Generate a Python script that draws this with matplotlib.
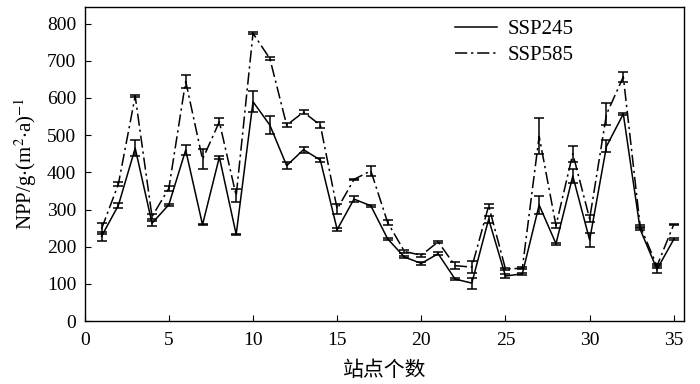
import numpy as np
import matplotlib.pyplot as plt

plt.rcParams['font.family'] = ['Liberation Serif', 'Noto Sans CJK SC']
plt.rcParams['mathtext.fontset'] = 'stix'

# station index
sites = np.arange(1, 36)

ssp245 = [228, 311, 465, 263, 313, 460, 259, 441, 233, 590,
          527, 418, 461, 433, 246, 328, 310, 221, 172, 155,
          181, 113, 102, 274, 121, 127, 312, 208, 390, 218,
          470, 557, 247, 139, 220]
err245 = [12, 6, 22, 7, 3, 14, 2, 4, 2, 29,
          24, 9, 8, 5, 5, 9, 2, 2, 3, 3,
          4, 2, 15, 9, 5, 3, 25, 3, 18, 18,
          16, 3, 3, 9, 3]

ssp585 = [248, 368, 605, 281, 357, 645, 435, 536, 337, 774,
          706, 527, 562, 527, 301, 381, 404, 265, 187, 177,
          213, 149, 145, 310, 140, 142, 497, 257, 450, 275,
          556, 657, 256, 148, 260]
err585 = [15, 5, 3, 7, 7, 18, 27, 10, 18, 3,
          5, 6, 6, 8, 13, 2, 13, 7, 5, 4,
          2, 9, 17, 5, 3, 3, 48, 6, 22, 9,
          30, 14, 2, 5, 2]

fig = plt.figure(figsize=(7, 3.84), dpi=100)
ax = fig.add_axes([0.121, 0.164, 0.856, 0.818])

ax.errorbar(sites, ssp245, yerr=err245, color='black', lw=1.1, ls='-',
            capsize=3.5, elinewidth=1.1, capthick=1.1, label='SSP245')
ax.errorbar(sites, ssp585, yerr=err585, color='black', lw=1.1,
            ls=(0, (8, 2.5, 1.5, 2.5)),
            capsize=3.5, elinewidth=1.1, capthick=1.1, label='SSP585')

ax.set_xlim(0, 35.6)
ax.set_ylim(0, 845)
ax.set_xticks(range(0, 36, 5))
ax.set_yticks(range(0, 801, 100))
ax.tick_params(direction='in', length=4, labelsize=14, top=False, right=False)
ax.tick_params(axis='x', pad=8)
ax.tick_params(axis='y', pad=6)
for s in ax.spines.values():
    s.set_linewidth(1.0)

ax.set_xlabel('站点个数', fontsize=15, family=['Noto Sans CJK SC'], labelpad=7)
ax.set_ylabel(r'NPP/g$\cdot$(m$^2$$\cdot$a)$^{-1}$', fontsize=15, labelpad=6)

handles, labels = ax.get_legend_handles_labels()
handles = [h[0] for h in handles]
ax.legend(handles, labels, loc='upper left', bbox_to_anchor=(0.587, 1.02),
          frameon=False, fontsize=15, handlelength=2.0, handletextpad=0.5,
          labelspacing=0.3)

fig.savefig('out.png', dpi=100)
